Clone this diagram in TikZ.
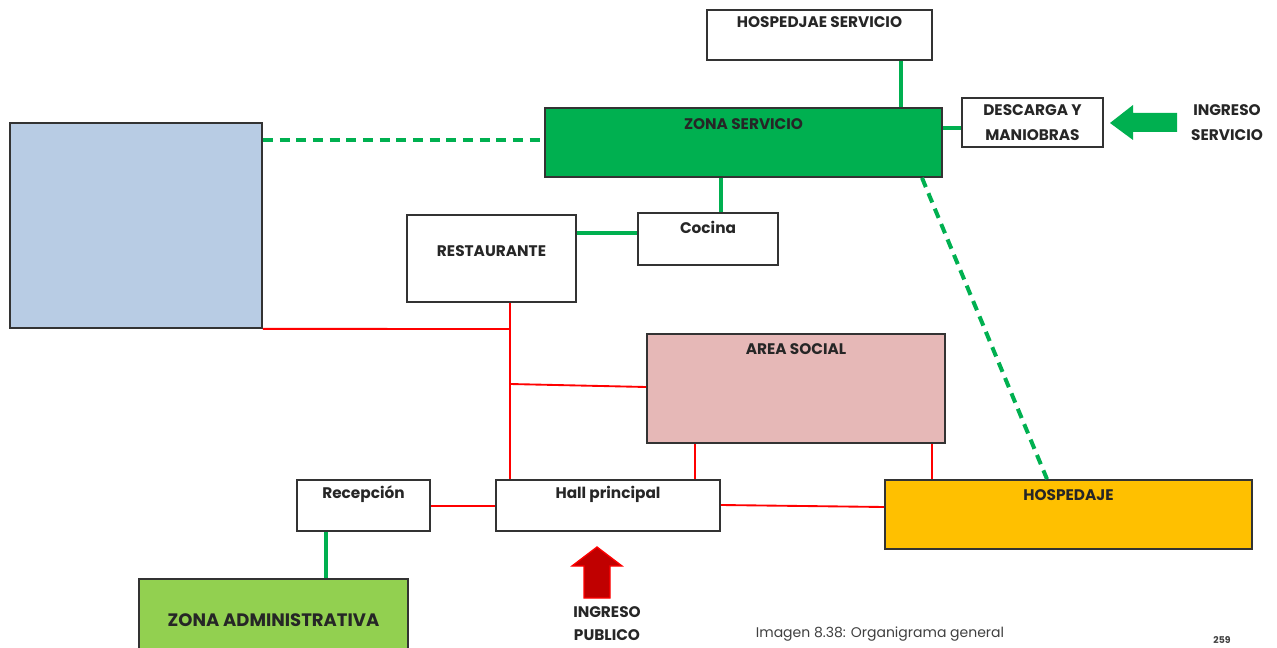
\documentclass[tikz,border=0pt]{standalone}
\usepackage{fontspec}
\setmainfont{Poppins}
\begin{document}
\begin{tikzpicture}[x=0.75pt,y=-0.75pt,
  box/.style={draw=black!80,line width=1.3pt},
  lbl/.style={font=\bfseries\fontsize{11.5}{13}\selectfont,text=black!85,inner sep=0pt},
  gl/.style={draw=cgreen,line width=3pt},
  gd/.style={draw=cgreen,line width=3pt,dash pattern=on 7.5pt off 5pt},
  rl/.style={draw=red,line width=1.4pt}]
\useasboundingbox (0,0) rectangle (1277,648);
\definecolor{cblue}{HTML}{B8CCE4}
\definecolor{cgreen}{HTML}{00B050}
\definecolor{cpink}{HTML}{E6B8B7}
\definecolor{cyel}{HTML}{FFC000}
\definecolor{clime}{HTML}{92D050}
\definecolor{cdred}{HTML}{C00000}
% boxes
\node[box,fill=cblue,minimum width=252*0.75pt,minimum height=205*0.75pt,inner sep=0pt] (blue) at (136,225.5) {};
\node[box,fill=white,minimum width=225*0.75pt,minimum height=50*0.75pt,inner sep=0pt] (hs) at (819.5,35) {};
\node[lbl] at (819.5,22) {HOSPEDJAE SERVICIO};
\node[box,fill=cgreen,minimum width=397*0.75pt,minimum height=69*0.75pt,inner sep=0pt] (zs) at (743.5,142.5) {};
\node[lbl] at (743.5,124) {ZONA SERVICIO};
\node[box,fill=white,minimum width=141*0.75pt,minimum height=49*0.75pt,inner sep=0pt] (dm) at (1032.5,122.5) {};
\node[lbl,align=center] at (1032.5,122.5) {DESCARGA Y\\[6pt]MANIOBRAS};
\node[lbl,align=center] (ingS) at (1227,122.5) {INGRESO\\[6pt]SERVICIO};
\node[box,fill=white,minimum width=169*0.75pt,minimum height=87*0.75pt,inner sep=0pt] (rest) at (491.5,258.5) {};
\node[lbl] at (491.5,251) {RESTAURANTE};
\node[box,fill=white,minimum width=140*0.75pt,minimum height=52*0.75pt,inner sep=0pt] (coc) at (708,239) {};
\node[lbl] at (708,227) {Cocina};
\node[box,fill=cpink,minimum width=298*0.75pt,minimum height=109*0.75pt,inner sep=0pt] (as) at (796,388.5) {};
\node[lbl] at (796,349) {AREA SOCIAL};
\node[box,fill=white,minimum width=133*0.75pt,minimum height=51*0.75pt,inner sep=0pt] (rec) at (363.5,505.5) {};
\node[lbl] at (363.5,494) {Recepción};
\node[box,fill=white,minimum width=224*0.75pt,minimum height=51*0.75pt,inner sep=0pt] (hall) at (608,505.5) {};
\node[lbl] at (608,494) {Hall principal};
\node[box,fill=cyel,minimum width=367*0.75pt,minimum height=69*0.75pt,inner sep=0pt] (hosp) at (1068.5,514.5) {};
\node[lbl] at (1068.5,495) {HOSPEDAJE};
\node[box,fill=clime,minimum width=269*0.75pt,minimum height=80*0.75pt,inner sep=0pt] (za) at (273.5,619) {};
\node[lbl,font=\bfseries\fontsize{13.5}{15}\selectfont] at (273.5,620) {ZONA ADMINISTRATIVA};
\node[lbl,align=center,anchor=south] (ingP) at (607,641) {INGRESO\\[4pt]PUBLICO};
\node[font=\fontsize{10.5}{12}\selectfont,text=black!75,inner sep=0pt] (cap) at (880,634) {Imagen 8.38: Organigrama general};
\node[font=\bfseries\fontsize{7}{8}\selectfont,text=black!75,inner sep=0pt,anchor=south] (pg) at (1222,644) {259};
% arrows
\fill[cgreen] (1110,123) -- (1133,105) -- (1133,113) -- (1177,113) -- (1177,132) -- (1133,132) -- (1133,140) -- cycle;
\fill[cdred,draw=red,line width=1pt] (597,547) -- (622,566) -- (610,566) -- (610,598) -- (584,598) -- (584,566) -- (572,566) -- cycle;
% green connectors
\draw[gd] (blue.east |- 0,140) -- (zs.west |- 0,140);
\draw[gl] (hs.south -| 901,0) -- (zs.north -| 901,0);
\draw[gl] (zs.east |- 0,128) -- (dm.west |- 0,128);
\draw[gl] (zs.south -| 721,0) -- (coc.north -| 721,0);
\draw[gl] (rest.east |- 0,233) -- (coc.west |- 0,233);
\draw[gd] (zs.south -| 922,0) -- (hosp.north -| 1047,0);
\draw[gl] (rec.south -| 326,0) -- (za.north -| 326,0);
% red connectors
\coordinate (j1) at (510,329);
\coordinate (j2) at (510,384);
\draw[rl] (blue.south east) -- (j1);
\draw[rl] (rest.south -| 510,0) -- (hall.north -| 510,0);
\draw[rl] (j2) -- (as.west |- 0,387);
\draw[rl] (as.south -| 695,0) -- (hall.north -| 695,0);
\draw[rl] (as.south -| 932,0) -- (hosp.north -| 932,0);
\draw[rl] (rec.east |- 0,506) -- (hall.west |- 0,506);
\draw[rl] (hall.east |- 0,505) -- (hosp.west |- 0,507);
\end{tikzpicture}
\end{document}
